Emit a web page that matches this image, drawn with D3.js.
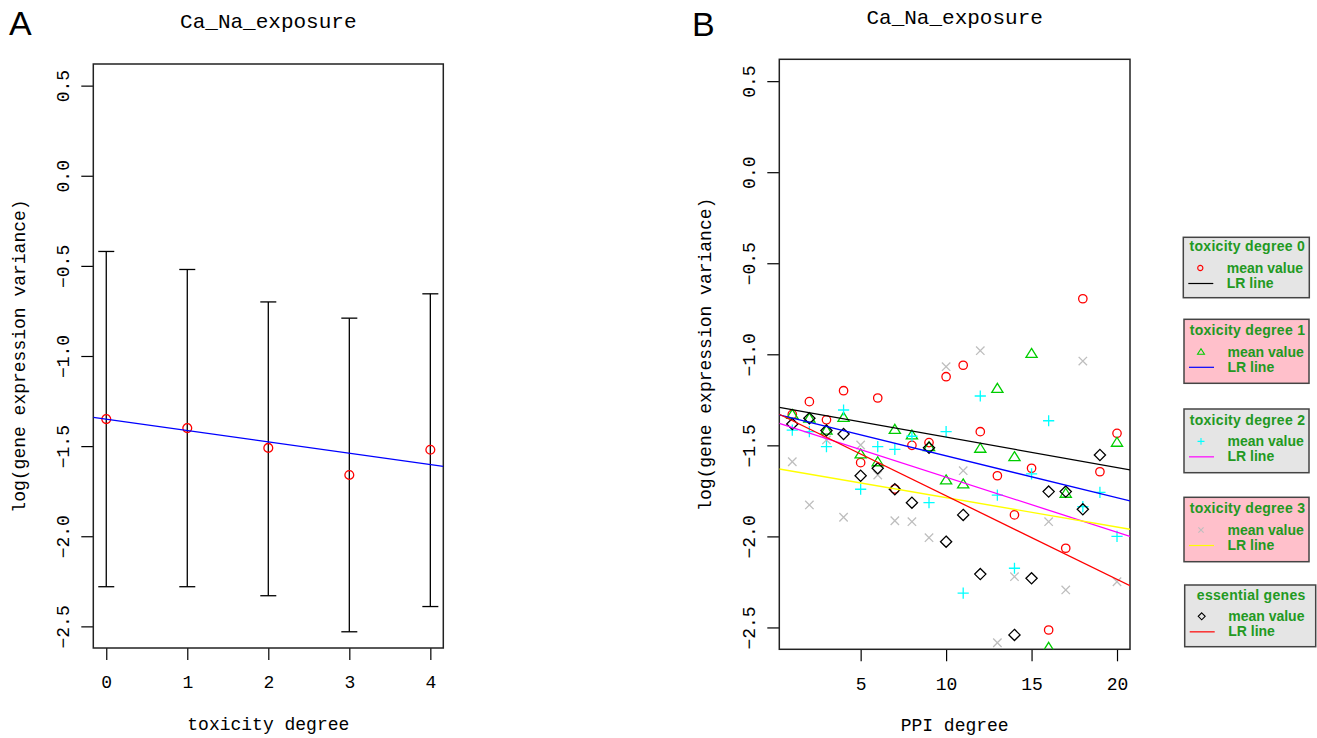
<!DOCTYPE html>
<html>
<head>
<meta charset="utf-8">
<script src="https://cdn.jsdelivr.net/npm/d3@7"></script>
<style>
  body { margin: 0; background: #fff; }
  text { fill: #000; }
</style>
</head>
<body>
<div id="chart"></div>
<script>
// ---- panel A: mean and range per toxicity degree ----
const toxDegree = [0, 1, 2, 3, 4];
const toxMean = [-1.35, -1.40, -1.51, -1.66, -1.52];
const toxUpper = [-0.42, -0.52, -0.70, -0.79, -0.655];
const toxLower = [-2.28, -2.28, -2.33, -2.53, -2.39];
const toxLR = [-1.35, -0.063]; // intercept, slope

// ---- panel B: mean value per PPI degree, one list per group ----
const ppiDegree = [1, 2, 3, 4, 5, 6, 7, 8, 9, 10, 11, 12, 13, 14, 15, 16, 17, 18, 19, 20];
const tox0Mean = [-1.33, -1.26, -1.36, -1.20, -1.595, -1.24, -1.74, -1.50, -1.485, -1.123,
                  -1.06, -1.425, -1.667, -1.882, -1.626, -2.514, -2.065, -0.695, -1.645, -1.434];
const tox1Mean = [-1.33, -1.35, -1.416, -1.346, -1.547, -1.59, -1.412, -1.443, -1.507, -1.69,
                  -1.712, -1.516, -1.187, -1.562, -0.995, -2.609, -1.763, null, null, -1.483];
const tox2Mean = [-1.416, -1.425, -1.507, -1.306, -1.741, -1.507, -1.522, -1.45, -1.815, -1.425,
                  -2.312, -1.229, -1.773, -2.175, -1.657, -1.365, null, -1.837, -1.758, -2.0];
const tox3Mean = [-1.59, -1.827, -1.47, -1.895, -1.498, -1.663, -1.914, -1.919, -2.007, -1.068,
                  -1.639, -0.98, -2.584, -2.221, null, -1.919, -2.294, -1.037, null, -2.249];
const essMean = [-1.383, -1.351, -1.419, -1.438, -1.667, -1.626, -1.741, -1.815, -1.513, -2.029,
                 -1.882, -2.207, null, -2.541, -2.230, -1.754, -1.754, -1.851, -1.553, null];
const lrIntercept = [-1.287, -1.327, -1.372, -1.626, -1.318];
const lrSlope = [-0.01676, -0.02305, -0.03026, -0.01613, -0.0459];

const groupNames = ["toxicity degree 0", "toxicity degree 1", "toxicity degree 2", "toxicity degree 3", "essential genes"];
const legendRows = ["mean value", "LR line"];
const yTicks = [0.5, 0.0, -0.5, -1.0, -1.5, -2.0, -2.5];
const ppiTicks = [5, 10, 15, 20];

// styles
const markerColor = ["#ff0000", "#00cd00", "#00ffff", "#bebebe", "#000000"];
const lineColor = ["#000000", "#0000ff", "#ff00ff", "#ffff00", "#ff0000"];
const shapes = ["circle", "triangle", "plus", "times", "diamond"];
const legendFill = ["#e5e5e5", "#ffc0cb", "#e5e5e5", "#ffc0cb", "#e5e5e5"];
const mono = "'Liberation Mono', 'DejaVu Sans Mono', monospace";
const sans = "'Liberation Sans', Arial, sans-serif";

const W = 1317, H = 738;
const svg = d3.select("#chart").append("svg")
  .attr("width", W).attr("height", H)
  .style("background", "#fff");

function markerPath(shape, s) {
  const p = d3.path();
  if (shape === "circle") { p.moveTo(4.2 * s, 0); p.arc(0, 0, 4.2 * s, 0, 2 * Math.PI); }
  else if (shape === "triangle") { p.moveTo(0, -5 * s); p.lineTo(5.6 * s, 4 * s); p.lineTo(-5.6 * s, 4 * s); p.closePath(); }
  else if (shape === "plus") { p.moveTo(-5.6 * s, 0); p.lineTo(5.6 * s, 0); p.moveTo(0, -5.6 * s); p.lineTo(0, 5.6 * s); }
  else if (shape === "times") { p.moveTo(-4.2 * s, -4.2 * s); p.lineTo(4.2 * s, 4.2 * s); p.moveTo(-4.2 * s, 4.2 * s); p.lineTo(4.2 * s, -4.2 * s); }
  else if (shape === "diamond") { p.moveTo(0, -5.6 * s); p.lineTo(5.6 * s, 0); p.lineTo(0, 5.6 * s); p.lineTo(-5.6 * s, 0); p.closePath(); }
  return p.toString();
}

// R-like axes: ticks only, labels parallel to axis, box drawn separately
function drawPanel(g, x, y, xTickVals, xFmt, title, xLabel, id) {
  const [x0, x1] = x.range(), [yb, yt] = y.range();

  g.append("clipPath").attr("id", id).append("rect")
    .attr("x", x0).attr("y", yt).attr("width", x1 - x0).attr("height", yb - yt);

  const ax = g.append("g").attr("transform", `translate(0,${yb})`)
    .call(d3.axisBottom(x).tickValues(xTickVals).tickFormat(xFmt).tickSize(12).tickSizeOuter(0));
  ax.select(".domain").remove();
  ax.selectAll("line").attr("stroke", "#000").attr("stroke-width", 1.2);
  ax.selectAll("text").attr("y", 34).attr("dy", "0.35em")
    .style("font-family", mono).style("font-size", "18px").attr("fill", "#000");

  const ay = g.append("g").attr("transform", `translate(${x0},0)`)
    .call(d3.axisLeft(y).tickValues(yTicks).tickFormat(d3.format(".1f")).tickSize(12).tickSizeOuter(0));
  ay.select(".domain").remove();
  ay.selectAll("line").attr("stroke", "#000").attr("stroke-width", 1.2);
  ay.selectAll("text")
    .attr("x", 0).attr("y", 0).attr("dy", "0.35em")
    .attr("text-anchor", "middle")
    .attr("transform", "translate(-31,0) rotate(-90)")
    .text(d => d3.format(".1f")(d).replace("-", "\u2212"))
    .style("font-family", mono).style("font-size", "18px").attr("fill", "#000");

  g.append("rect").attr("x", x0).attr("y", yt).attr("width", x1 - x0).attr("height", yb - yt)
    .attr("fill", "none").attr("stroke", "#222").attr("stroke-width", 1.5);

  g.append("text").attr("x", (x0 + x1) / 2).attr("y", yt - 43).attr("dy", "0.35em")
    .attr("text-anchor", "middle").style("font-family", mono).style("font-size", "21px")
    .text(title);
  g.append("text").attr("x", (x0 + x1) / 2).attr("y", yb + 76).attr("dy", "0.32em")
    .attr("text-anchor", "middle").style("font-family", mono).style("font-size", "18px")
    .text(xLabel);
  g.append("text").attr("transform", `translate(${x0 - 75},${(yt + yb) / 2}) rotate(-90)`)
    .attr("dy", "0.35em").attr("text-anchor", "middle")
    .style("font-family", mono).style("font-size", "18px")
    .text("log(gene expression variance)");
}

// ---------- Panel A ----------
const xA = d3.scaleLinear().domain([-0.16, 4.16]).range([93.3, 443.3]);
const yA = d3.scaleLinear().domain([-2.62, 0.62]).range([648, 64]);
const gA = svg.append("g");
drawPanel(gA, xA, yA, toxDegree, d3.format("d"), "Ca_Na_exposure", "toxicity degree", "clipA");

const bars = gA.append("g").attr("stroke", "#000").attr("stroke-width", 1.3);
toxDegree.forEach((d, i) => {
  bars.append("line").attr("x1", xA(d)).attr("x2", xA(d)).attr("y1", yA(toxUpper[i])).attr("y2", yA(toxLower[i]));
  bars.append("line").attr("x1", xA(d) - 8).attr("x2", xA(d) + 8).attr("y1", yA(toxUpper[i])).attr("y2", yA(toxUpper[i]));
  bars.append("line").attr("x1", xA(d) - 8).attr("x2", xA(d) + 8).attr("y1", yA(toxLower[i])).attr("y2", yA(toxLower[i]));
});
gA.append("g").selectAll("path").data(toxDegree).enter().append("path")
  .attr("transform", (d, i) => `translate(${xA(d)},${yA(toxMean[i])})`)
  .attr("d", markerPath("circle", 1.05)).attr("fill", "none").attr("stroke", "#ff0000").attr("stroke-width", 1.3);
const dA = xA.domain();
gA.append("line").attr("clip-path", "url(#clipA)")
  .attr("x1", xA(dA[0])).attr("y1", yA(toxLR[0] + toxLR[1] * dA[0]))
  .attr("x2", xA(dA[1])).attr("y2", yA(toxLR[0] + toxLR[1] * dA[1]))
  .attr("stroke", "#0000ff").attr("stroke-width", 1.3);

svg.append("text").attr("x", 9).attr("y", 35).style("font-family", sans).style("font-size", "34px").text("A");

// ---------- Panel B ----------
const xB = d3.scaleLinear().domain([0.24, 20.76]).range([779.3, 1130]);
const yB = d3.scaleLinear().domain([-2.62, 0.62]).range([649.3, 59.3]);
const gB = svg.append("g");
drawPanel(gB, xB, yB, ppiTicks, d3.format("d"), "Ca_Na_exposure", "PPI degree", "clipB");

const groups = [tox0Mean, tox1Mean, tox2Mean, tox3Mean, essMean];
const pts = gB.append("g").attr("clip-path", "url(#clipB)");
groups.forEach((vals, k) => {
  pts.append("g").selectAll("path")
    .data(ppiDegree.map((d, i) => [d, vals[i]]).filter(p => p[1] !== null))
    .enter().append("path")
    .attr("transform", p => `translate(${xB(p[0])},${yB(p[1])})`)
    .attr("d", markerPath(shapes[k], 1))
    .attr("fill", "none").attr("stroke", markerColor[k]).attr("stroke-width", 1.3);
});
const dB = xB.domain();
const lines = gB.append("g").attr("clip-path", "url(#clipB)");
lrIntercept.forEach((a, k) => {
  lines.append("line")
    .attr("x1", xB(dB[0])).attr("y1", yB(a + lrSlope[k] * dB[0]))
    .attr("x2", xB(dB[1])).attr("y2", yB(a + lrSlope[k] * dB[1]))
    .attr("stroke", lineColor[k]).attr("stroke-width", 1.3);
});

svg.append("text").attr("x", 692).attr("y", 36).style("font-family", sans).style("font-size", "34px").text("B");

// ---------- legends ----------
const boxTop = [237.3, 319.3, 409, 497.3, 585];
const boxH = [60.4, 64, 63.7, 64.4, 61.7];
const boxLeft = [1183.3, 1184, 1184, 1184, 1184.7];
const boxW = [126, 125, 125, 125, 131];
const legText = "#229922";

groupNames.forEach((name, k) => {
  const lg = svg.append("g").attr("transform", `translate(${boxLeft[k]},${boxTop[k]})`);
  const cy = boxH[k] / 2;
  lg.append("rect").attr("width", boxW[k]).attr("height", boxH[k])
    .attr("fill", legendFill[k]).attr("stroke", "#444").attr("stroke-width", 1.5);
  lg.append("text").attr("x", boxW[k] / 2 + 1).attr("y", cy - 21).attr("dy", "0.35em")
    .attr("text-anchor", "middle").style("font-family", sans).style("font-size", "14px")
    .style("font-weight", "bold").style("letter-spacing", "0.3px").style("fill", legText).text(name);
  lg.append("path").attr("transform", `translate(17,${cy + 0.5})`)
    .attr("d", markerPath(shapes[k], 0.62)).attr("fill", "none")
    .attr("stroke", markerColor[k]).attr("stroke-width", 1.1);
  lg.append("line").attr("x1", 5).attr("x2", 30).attr("y1", cy + 16).attr("y2", cy + 16)
    .attr("stroke", lineColor[k]).attr("stroke-width", 1.2);
  legendRows.forEach((r, j) => {
    lg.append("text").attr("x", 43.5).attr("y", j === 0 ? cy + 0.5 : cy + 15.5).attr("dy", "0.35em")
      .style("font-family", sans).style("font-size", "14px").style("font-weight", "bold")
      .style("fill", legText).text(r);
  });
});
</script>
</body>
</html>
